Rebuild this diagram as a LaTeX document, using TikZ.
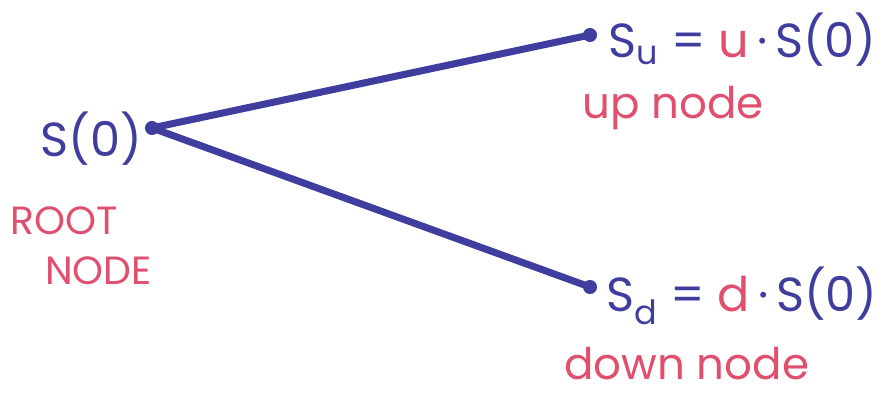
\documentclass[tikz,border=0pt]{standalone}
\usepackage{fontspec}
\setmainfont{Poppins}
\usetikzlibrary{positioning}
\definecolor{inkblue}{HTML}{3F3D9E}
\definecolor{inkpink}{HTML}{E0506E}

\begin{document}
\begin{tikzpicture}[
  branch/.style={inkblue, line width=5pt, line cap=round},
  dot/.style={circle, fill=inkblue, inner sep=0pt, minimum size=10pt},
  price/.style={text=inkblue, font=\fontsize{34}{38}\selectfont, inner sep=0pt},
  tag/.style={text=inkpink, font=\fontsize{31}{36}\selectfont, inner sep=0pt},
  roottag/.style={text=inkpink, font=\fontsize{28}{32}\selectfont, inner sep=0pt}
]
  \useasboundingbox (0,0) rectangle (22.1,9.875);
  % the three nodes of the tree
  \node[dot] (root) at (3.8,6.675) {};
  \node[dot] (up) at (14.75,9.0) {};
  \node[dot] (down) at (14.75,2.7) {};
  \draw[branch] (root.center) -- (up.center);
  \draw[branch] (root.center) -- (down.center);
  % prices
  \node[price, anchor=base west] (s0) at (1.0,5.95) {S(0)};
  \node[price, anchor=base west] (su) at (15.2,8.43)
    {S\textsubscript{u} = \textcolor{inkpink}{u}\,·\,S(0)};
  \node[price, anchor=base west] (sd) at (15.15,2.08)
    {S\textsubscript{d} = \textcolor{inkpink}{d}\,·\,S(0)};
  % labels
  \node[roottag, anchor=base west] (rootlbl) at (0.25,4.0) {ROOT};
  \node[roottag, anchor=base west] (nodelbl) at (1.12,2.75) {NODE};
  \node[tag, anchor=base west] (uplbl) at (14.55,6.9) {up node};
  \node[tag, anchor=base west] (downlbl) at (14.1,0.38) {down node};
\end{tikzpicture}
\end{document}
